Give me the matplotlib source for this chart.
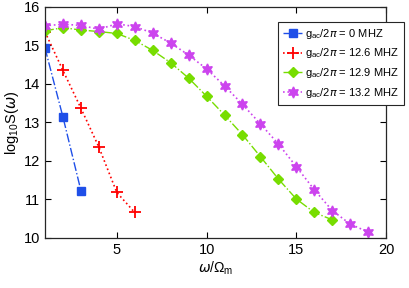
import matplotlib
matplotlib.use("Agg")
import matplotlib.pyplot as plt

plt.rcParams['font.family'] = ['Liberation Sans', 'DejaVu Sans']
plt.rcParams['mathtext.fontset'] = 'custom'
plt.rcParams['mathtext.rm'] = 'Liberation Sans'

# data
x0 = [1, 2, 3]
y0 = [14.93, 13.14, 11.23]
x1 = [1, 2, 3, 4, 5, 6]
y1 = [15.35, 14.35, 13.37, 12.36, 11.18, 10.66]
x2 = list(range(1, 18))
y2 = [15.38, 15.46, 15.40, 15.36, 15.31, 15.13, 14.87, 14.55, 14.15, 13.68,
      13.19, 12.68, 12.11, 11.53, 11.01, 10.66, 10.47]
x3 = list(range(1, 20))
y3 = [15.51, 15.55, 15.52, 15.42, 15.56, 15.49, 15.32, 15.06, 14.75, 14.39,
      13.95, 13.47, 12.96, 12.44, 11.85, 11.25, 10.71, 10.36, 10.15]
labels = ['g$_{\\rm ac}$/2$\\pi$ = 0 MHZ', 'g$_{\\rm ac}$/2$\\pi$ = 12.6 MHZ',
          'g$_{\\rm ac}$/2$\\pi$ = 12.9 MHZ', 'g$_{\\rm ac}$/2$\\pi$ = 13.2 MHZ']

fig = plt.figure(figsize=(4.09, 2.88), dpi=100)
ax = fig.add_axes([0.110, 0.174, 0.834, 0.802])

ax.plot(x0, y0, '-.', color='#1f4fe8', marker='s', ms=6, lw=1, label=labels[0])
ax.plot(x1, y1, ':', color='#ff0000', marker='+', ms=9, mew=1.3, lw=1.2, label=labels[1])
ax.plot(x2, y2, '-.', color='#77dd00', marker='D', ms=5, lw=1, label=labels[2])
ax.plot(x3, y3, ':', color='#cc44ee', marker=(6, 1, 0), ms=8, lw=1.2, label=labels[3])

ax.set_xlim(1, 20)
ax.set_ylim(10, 16)
ax.set_xticks([5, 10, 15, 20])
ax.set_yticks(range(10, 17))
ax.tick_params(direction='in', top=True, right=True, labelsize=10.5, length=4, width=0.8)
for s in ax.spines.values():
    s.set_linewidth(0.9)
    s.set_color('#262626')

ax.set_xlabel('$\\omega$/$\\Omega_{\\rm m}$', fontsize=10, labelpad=2)
ax.set_ylabel('log$_{10}$S($\\omega$)', fontsize=10.5, labelpad=2)

leg = ax.legend(loc='upper right', bbox_to_anchor=(1.06, 0.945), fontsize=8,
                fancybox=False, edgecolor='#262626', framealpha=1,
                handlelength=1.7, handletextpad=0.3, borderpad=0.45, labelspacing=0.5,
                borderaxespad=0.2)
leg.get_frame().set_linewidth(0.8)

fig.savefig('out.png', dpi=100)
